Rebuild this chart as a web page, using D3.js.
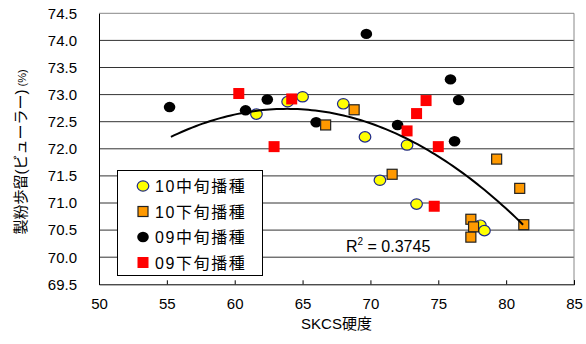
<!DOCTYPE html>
<html><head><meta charset="utf-8">
<script src="https://cdn.jsdelivr.net/npm/d3@7"></script>
<style>
html,body{margin:0;padding:0;background:#fff;}
svg{display:block;font-family:"Liberation Sans",Arial,"Noto Sans CJK JP",sans-serif;}
</style></head>
<body><svg id="c" width="586" height="344"></svg>
<script>
// ---- data ----
const xTicks = [50,55,60,65,70,75,80,85];
const yTicks = [69.5,70.0,70.5,71.0,71.5,72.0,72.5,73.0,73.5,74.0,74.5];
const seriesNames = ["10中旬播種","10下旬播種","09中旬播種","09下旬播種"];
const s10mid_x = [61.6,63.9,65.0,68.0,69.6,72.7,70.7,73.4,78.1,78.4];
const s10mid_y = [72.64,72.87,72.96,72.83,72.22,72.07,71.42,70.98,70.59,70.49];
const s10late_x = [68.8,66.7,71.6,79.3,81.0,77.4,77.6,77.4,81.3];
const s10late_y = [72.72,72.44,71.53,71.81,71.27,70.70,70.56,70.37,70.60];
const s09mid_x = [55.2,60.8,62.4,69.7,66.0,72.0,75.9,76.5,76.2];
const s09mid_y = [72.77,72.71,72.91,74.12,72.49,72.44,73.28,72.90,72.14];
const s09late_x = [60.3,64.2,62.9,72.7,73.4,74.1,75.0,74.7];
const s09late_y = [73.02,72.92,72.04,72.33,72.65,72.89,72.04,70.94];
// trendline (2nd-order polynomial): y = a + b*(x-70) + c*(x-70)^2
const trendCoef = [72.47, -0.0868, -0.00706];
const trendRange = [55.3, 81.25];
const r2Label = "0.3745";

const svg = d3.select("#c");
const L=99, R=574, T=13.3, B=284.3;
const x = d3.scaleLinear().domain([50,85]).range([L,R]);
const y = d3.scaleLinear().domain([69.5,74.5]).range([B,T]);

// gridlines
svg.append("g").selectAll("line").data(yTicks.slice(1)).join("line")
  .attr("x1",L).attr("x2",R).attr("y1",d=>y(d)).attr("y2",d=>y(d))
  .attr("stroke",d=>d===74.5?"#888":"#333").attr("stroke-width",1);
// right border
svg.append("line").attr("x1",R).attr("x2",R).attr("y1",T).attr("y2",B).attr("stroke","#888");

// axes
const xAxis = d3.axisBottom(x).tickValues(xTicks).tickSize(-4).tickFormat(d3.format("d")).tickPadding(14);
const gx = svg.append("g").attr("transform",`translate(0,${B})`).call(xAxis);
gx.select(".domain").attr("stroke","#000");
gx.selectAll(".tick line").attr("stroke","#000");
gx.selectAll("text").attr("font-size",15).attr("fill","#000").attr("font-family","Liberation Sans, Arial, sans-serif");
const yAxis = d3.axisLeft(y).tickValues(yTicks).tickSize(0).tickFormat(d3.format(".1f")).tickPadding(22);
const gy = svg.append("g").attr("transform",`translate(${L},0)`).call(yAxis);
gy.select(".domain").attr("stroke","#000");
gy.selectAll("text").attr("font-size",15).attr("fill","#000").attr("font-family","Liberation Sans, Arial, sans-serif");

// titles
svg.append("text").attr("x",(L+R)/2).attr("y",329).attr("text-anchor","middle")
  .attr("font-size",15).text("SKCS硬度");
const yt = svg.append("text").attr("transform","translate(26,152) rotate(-90)").attr("text-anchor","middle")
  .attr("font-size",15);
yt.append("tspan").text("製粉歩留(ビューラー)");
yt.append("tspan").attr("font-size",11).text(" (%)");

// points
const sets = [
  {xs:s10mid_x, ys:s10mid_y, type:"circle", fill:"#ffff00", stroke:"#1f2a8a"},
  {xs:s09mid_x, ys:s09mid_y, type:"circle", fill:"#000", stroke:"none"},
  {xs:s10late_x, ys:s10late_y, type:"square", fill:"#ff9900", stroke:"#222"},
  {xs:s09late_x, ys:s09late_y, type:"square", fill:"#ff0000", stroke:"none"}
];
sets.forEach(s=>{
  const pts = s.xs.map((v,i)=>[v,s.ys[i]]);
  const g = svg.append("g");
  if(s.type==="circle"){
    g.selectAll("ellipse").data(pts).join("ellipse")
      .attr("cx",d=>x(d[0])).attr("cy",d=>y(d[1])).attr("rx",5.8).attr("ry",5.2)
      .attr("fill",s.fill).attr("stroke",s.stroke).attr("stroke-width",1.2);
  } else {
    const sz = s.stroke==="none"?11:10;
    g.selectAll("rect").data(pts).join("rect")
      .attr("x",d=>x(d[0])-sz/2).attr("y",d=>y(d[1])-sz/2).attr("width",sz).attr("height",sz)
      .attr("fill",s.fill).attr("stroke",s.stroke).attr("stroke-width",1.2);
  }
});

// trendline
const curve = d3.range(0,101).map(i=>{
  const xv=trendRange[0]+(trendRange[1]-trendRange[0])*i/100, u=xv-70;
  return [xv,trendCoef[0]+trendCoef[1]*u+trendCoef[2]*u*u];
});
svg.append("path").datum(curve).attr("fill","none").attr("stroke","#000").attr("stroke-width",2)
  .attr("d",d3.line().x(d=>x(d[0])).y(d=>y(d[1])));

// R2 label
const rt = svg.append("text").attr("x",346).attr("y",252).attr("font-size",16).attr("fill","#000");
rt.append("tspan").text("R");
rt.append("tspan").attr("font-size",10).attr("dy",-7).text("2");
rt.append("tspan").attr("dy",7).text(" = "+r2Label);

// legend
const lg = svg.append("g");
lg.append("rect").attr("x",117.5).attr("y",170.5).attr("width",145).attr("height",105)
  .attr("fill","#fff").attr("stroke","#000").attr("stroke-width",1);
const rowsY=[186,211.5,237,262.5];
const legMarks=[sets[0],sets[2],sets[1],sets[3]];
seriesNames.forEach((n,i)=>{
  const s=legMarks[i], cy=rowsY[i];
  if(s.type==="circle") lg.append("ellipse").attr("cx",143).attr("cy",cy).attr("rx",5.8).attr("ry",5.2)
     .attr("fill",s.fill).attr("stroke",s.stroke).attr("stroke-width",1.2);
  else { const sz=s.stroke==="none"?11:10; lg.append("rect").attr("x",143-sz/2).attr("y",cy-sz/2).attr("width",sz).attr("height",sz)
     .attr("fill",s.fill).attr("stroke",s.stroke).attr("stroke-width",1.2); }
  lg.append("text").attr("x",155).attr("y",cy+6).attr("font-size",16).attr("letter-spacing",1.6).text(n);
});
</script></body></html>
